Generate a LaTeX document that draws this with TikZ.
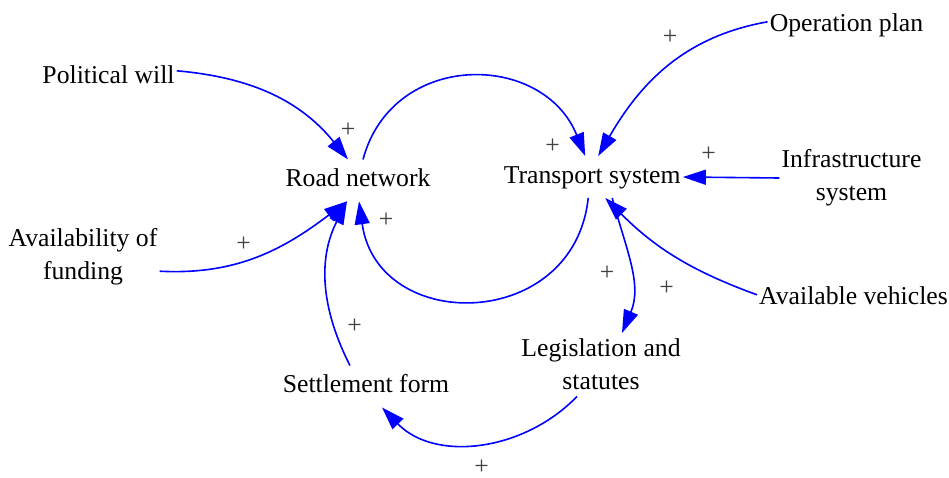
\documentclass[tikz,border=0pt]{standalone}
\usepackage{fontspec}
\setmainfont{Liberation Serif}
\usetikzlibrary{arrows.meta}

\begin{document}
\begin{tikzpicture}[
  x=1pt, y=-1pt,
  font=\fontsize{25.7}{33}\selectfont,
  >={Triangle[length=23pt,width=15pt]},
  varbox/.style={inner xsep=2pt, inner ysep=9pt, text height=18pt, text depth=5.5pt},
  varbox2/.style={align=center, inner xsep=2pt, inner ysep=6pt},
  link/.style={->, draw=blue, line width=1.6pt},
  polarity/.style={text=black!75, inner sep=0pt},
]
\useasboundingbox (0,0) rectangle (949,477);

% ===== variables =====
\node (road)   [varbox]  at (358,180.4) {Road network};
\node (trans)  [varbox]  at (592.2,177) {Transport system};
\node (polwill)[varbox]  at (108.5,76.8) {Political will};
\node (oplan)  [varbox]  at (846.5,24.8) {Operation plan};
\node (avveh)  [varbox]  at (853.5,297.8) {Available vehicles};
\node (settle) [varbox]  at (366,386.5) {Settlement form};
\node (fund)   [varbox2] at (83,257.2) {Availability of\\funding};
\node (infra)  [varbox2] at (851.5,178) {Infrastructure\\system};
\node (legis)  [varbox2] at (601,364.7) {Legislation and\\statutes};

% ===== links into road network =====
\draw[link] ([yshift=6pt]polwill.east) to[out=-5,in=129] ([xshift=-10pt]road.north);
\draw[link] ([yshift=-14pt]fund.east) to[out=-3,in=217] ([xshift=-11pt]road.south);
\draw[link] ([xshift=-16pt]settle.north) to[out=117,in=243] ([xshift=-11pt]road.south);

% ===== the two loop arcs =====
\draw[link] ([xshift=5pt]road.north) to[out=75,in=112,looseness=1.3] ([xshift=-7pt]trans.north);
\draw[link] ([xshift=-4pt]trans.south) to[out=-96,in=-82,looseness=1.5] ([xshift=1pt]road.south);

% ===== links into transport system =====
\draw[link] ([yshift=3pt]oplan.west) to[out=190,in=60] ([xshift=6pt]trans.north);
\draw[link] (infra.west) -- (trans.east);
\draw[link] ([yshift=3pt]avveh.west) to[out=160,in=-45] ([xshift=13pt]trans.south);

% ===== lower loop =====
\draw[link] ([xshift=20pt]trans.south) to[out=-75,in=67] ([xshift=21pt]legis.north);
\draw[link] ([xshift=-24pt]legis.south) to[out=-134,in=-46] ([xshift=16pt]settle.south);

% ===== polarity signs =====
\node (s1)  [polarity] at (348,130) {+};
\node (s2)  [polarity] at (243.5,244) {+};
\node (s3)  [polarity] at (552.5,146.5) {+};
\node (s4)  [polarity] at (386,220) {+};
\node (s5)  [polarity] at (354.5,326.5) {+};
\node (s6)  [polarity] at (670,37) {+};
\node (s7)  [polarity] at (708.5,154.5) {+};
\node (s8)  [polarity] at (666.5,288) {+};
\node (s9)  [polarity] at (607,273) {+};
\node (s10) [polarity] at (481.5,467) {+};
\end{tikzpicture}
\end{document}
